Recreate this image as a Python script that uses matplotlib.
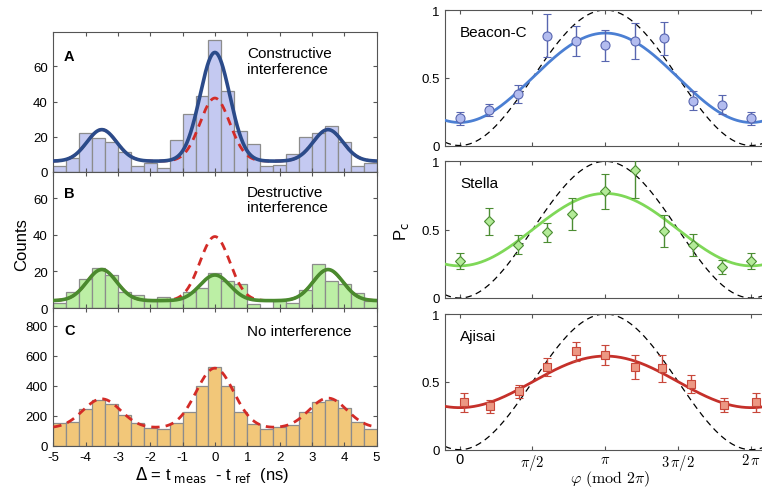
import numpy as np
import matplotlib
matplotlib.use('Agg')
import matplotlib.pyplot as plt

plt.rcParams['font.family'] = ['Liberation Sans', 'DejaVu Sans']

# histogram data: 25 bins of 0.4 ns from -5 to 5 ns
bin_edges = np.linspace(-5, 5, 26)
counts_a = [3, 8, 22, 19, 17, 11, 3, 5, 2, 18, 33, 43, 75, 46, 23, 16, 3, 4, 10, 20, 22, 26, 17, 3, 5]
counts_b = [3, 9, 16, 22, 18, 9, 7, 4, 6, 5, 9, 11, 19, 15, 13, 2, 0, 4, 3, 10, 24, 15, 13, 8, 4]
counts_c = [150, 160, 242, 308, 279, 204, 152, 121, 110, 150, 224, 396, 527, 396, 226, 143,
            114, 127, 141, 224, 290, 303, 250, 158, 114]

# triple-peak fit parameters: baseline, peak heights at (-3.5, 0, 3.5), width
peak_pos = [-3.5, 0.0, 3.5]
fit_a = (6, [18, 62, 18], 0.46)
fit_a_red = (6, [18, 36, 18], 0.46)
fit_b = (4, [17, 14, 17], 0.46)
fit_b_red = (4, [17, 35, 17], 0.46)
fit_c_red = (118, [195, 400, 200], 0.58)

# phase scans (phi in units of pi)
phi_pts = [0, 0.2, 0.4, 0.6, 0.8, 1.0, 1.2, 1.4, 1.6, 1.8, 2.0]
beacon_pc = [0.20, 0.26, 0.38, 0.81, 0.77, 0.74, 0.77, 0.79, 0.33, 0.30, 0.20]
beacon_err = [0.05, 0.045, 0.07, 0.16, 0.11, 0.115, 0.135, 0.12, 0.07, 0.07, 0.05]
stella_phi = [0, 0.2, 0.4, 0.6, 0.77, 1.0, 1.2, 1.4, 1.6, 1.8, 2.0]
stella_pc = [0.27, 0.56, 0.39, 0.48, 0.615, 0.78, 0.935, 0.49, 0.39, 0.225, 0.27]
stella_err = [0.057, 0.10, 0.07, 0.067, 0.117, 0.128, 0.20, 0.115, 0.08, 0.05, 0.057]
ajisai_phi = [0.03, 0.21, 0.41, 0.6, 0.8, 1.0, 1.2, 1.39, 1.59, 1.81, 2.03]
ajisai_pc = [0.35, 0.32, 0.43, 0.61, 0.725, 0.70, 0.61, 0.60, 0.485, 0.33, 0.35]
ajisai_err = [0.07, 0.047, 0.048, 0.064, 0.068, 0.075, 0.09, 0.10, 0.068, 0.053, 0.07]
# fits: Pc = offset - amp*cos(phi)
beacon_fit = (0.5, 0.33)
stella_fit = (0.5, 0.265)
ajisai_fit = (0.5, 0.19)


def peaks(x, fit):
    base, amps, sig = fit
    y = np.full_like(x, base, dtype=float)
    for p, a in zip(peak_pos, amps):
        y += a * np.exp(-(x - p) ** 2 / (2 * sig ** 2))
    return y


fig = plt.figure(figsize=(7.62, 4.89), dpi=100)
W, H = 762.0, 489.0


def ax_px(left, top, right, bottom):
    return fig.add_axes([left / W, 1 - bottom / H, (right - left) / W, (bottom - top) / H])


spine_col = '#555555'
red = '#d32b27'
xs = np.linspace(-5, 5, 500)

ax_a = ax_px(53.3, 33.3, 376.5, 172.7)
ax_b = ax_px(53.3, 172.7, 376.5, 309)
ax_c = ax_px(53.3, 309, 376.5, 446.7)

hist_specs = [
    (ax_a, counts_a, '#c4c9f1', (0, 79.5), [0, 20, 40, 60]),
    (ax_b, counts_b, '#bcefa5', (0, 74.4), [0, 20, 40, 60]),
    (ax_c, counts_c, '#f2c779', (0, 920), [0, 200, 400, 600, 800]),
]
for ax, cnt, fc, ylim, yt in hist_specs:
    ax.bar(bin_edges[:-1], cnt, width=0.4, align='edge', color=fc,
           edgecolor='#8c8c8c', linewidth=0.9)
    ax.set_xlim(-5, 5)
    ax.set_ylim(*ylim)
    ax.set_yticks(yt)
    ax.set_xticks(range(-5, 6))
    ax.tick_params(direction='in', top=True, right=True, labelsize=9.5,
                   length=3, color=spine_col, pad=4)
    for s in ax.spines.values():
        s.set_color(spine_col)
        s.set_linewidth(0.8)

ax_a.plot(xs, peaks(xs, fit_a_red), '--', color=red, lw=2, dashes=(3, 2.2), zorder=3)
ax_a.plot(xs, peaks(xs, fit_a), color='#2b4b8a', lw=2.6, zorder=4)
ax_b.plot(xs, peaks(xs, fit_b_red), '--', color=red, lw=2, dashes=(3, 2.2), zorder=3)
ax_b.plot(xs, peaks(xs, fit_b), color='#4a8a2e', lw=2.6, zorder=4)
ax_c.plot(xs, peaks(xs, fit_c_red), '--', color=red, lw=2, dashes=(3, 2.2), zorder=3)

ax_a.tick_params(labelbottom=False)
ax_b.tick_params(labelbottom=False)
ax_c.set_xticklabels([str(v) for v in range(-5, 6)])

ax_a.text(0.033, 0.83, 'A', transform=ax_a.transAxes, fontsize=10.5, fontweight='bold', va='center')
ax_b.text(0.033, 0.845, 'B', transform=ax_b.transAxes, fontsize=10.5, fontweight='bold', va='center')
ax_c.text(0.033, 0.84, 'C', transform=ax_c.transAxes, fontsize=10.5, fontweight='bold', va='center')
ax_a.text(0.60, 0.90, 'Constructive\ninterference', transform=ax_a.transAxes,
          fontsize=11, va='top', linespacing=1.15)
ax_b.text(0.60, 0.905, 'Destructive\ninterference', transform=ax_b.transAxes,
          fontsize=11, va='top', linespacing=1.15)
ax_c.text(0.60, 0.885, 'No interference', transform=ax_c.transAxes, fontsize=11, va='top')

fig.text(22 / W, 1 - 245 / H, 'Counts', rotation=90, fontsize=12, ha='center', va='center')
fig.text(212 / W, 1 - 475 / H, r'$\Delta$ = t$_{\mathsf{\ meas}}$  - t$_{\mathsf{\ ref}}$  (ns)',
         fontsize=12, ha='center', va='center')

# right column
phi_line = np.linspace(-0.1, 2.1, 400)
ax_1 = ax_px(445, 11, 765.8, 146.5)
ax_2 = ax_px(445, 162.3, 765.8, 299)
ax_3 = ax_px(445, 315, 765.8, 450.7)

right_specs = [
    (ax_1, phi_pts, beacon_pc, beacon_err, beacon_fit, 'o', '#b3bcef', '#5866b0', '#4b7fd3', 'Beacon-C', 6.5),
    (ax_2, stella_phi, stella_pc, stella_err, stella_fit, 'D', '#b3eb98', '#4c8d33', '#7fd858', 'Stella', 5.5),
    (ax_3, ajisai_phi, ajisai_pc, ajisai_err, ajisai_fit, 's', '#ec9884', '#c8473a', '#c5302a', 'Ajisai', 6),
]
for ax, ph, pc, err, fit, mk, mfc, mec, lc, name, ms in right_specs:
    ax.plot(phi_line, 0.5 - 0.5 * np.cos(np.pi * phi_line), color='black', lw=0.9,
            dashes=(5, 3.5), zorder=2)
    ax.plot(phi_line, fit[0] - fit[1] * np.cos(np.pi * phi_line), color=lc, lw=2, zorder=3)
    ax.errorbar(ph, pc, yerr=err, fmt=mk, ms=ms, mfc=mfc, mec=mec, mew=0.8,
                ecolor=mec, elinewidth=1, capsize=3, capthick=1, zorder=4)
    ax.set_xlim(-0.1, 2.1)
    ax.set_ylim(0, 1)
    ax.set_yticks([0, 0.5, 1])
    ax.set_yticklabels(['0', '0.5', '1'])
    ax.set_xticks([0, 0.5, 1, 1.5, 2])
    ax.tick_params(direction='in', top=True, right=True, labelsize=9.5,
                   length=3, color=spine_col, pad=4)
    for s in ax.spines.values():
        s.set_color(spine_col)
        s.set_linewidth(0.8)
    ax.text(0.047, 0.84, name, transform=ax.transAxes, fontsize=11, va='center')
    if ax is not ax_3:
        ax.tick_params(labelbottom=False)

ax_3.set_xticklabels(['0', r'$\pi/2$', r'$\pi$', r'$3\,\pi/2$', r'$2\,\pi$'])
ax_3.tick_params(axis='x', pad=1.5)
for lbl in ax_3.get_xticklabels():
    lbl.set_math_fontfamily('cm')
    lbl.set_fontsize(10.5)

fig.text(402 / W, 1 - 232 / H, r'P$_{\mathsf{c}}$', rotation=90, fontsize=12,
         ha='center', va='center')
fig.text(610 / W, 1 - 479 / H, r'$\varphi\ (\mathrm{mod}\ 2\pi)$', fontsize=11.5,
         ha='center', va='center', math_fontfamily='cm')

fig.savefig('out.png', dpi=100)
